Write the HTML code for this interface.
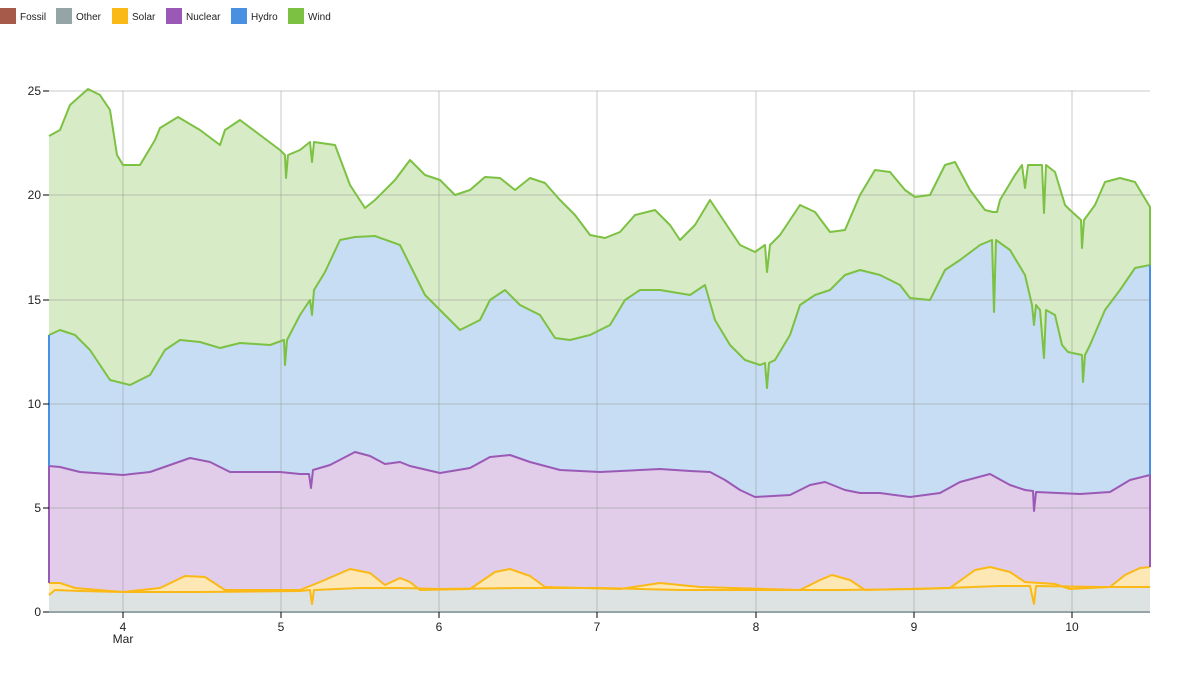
<!DOCTYPE html>
<html><head><meta charset="utf-8"><style>
html,body{margin:0;padding:0;background:#fff;width:1200px;height:675px;overflow:hidden}
svg{display:block;font-family:"Liberation Sans",sans-serif}
</style></head><body>
<svg width="1200" height="675" viewBox="0 0 1200 675">
<!-- legend -->
<g font-size="10" fill="#222">
<rect x="0" y="8" width="16" height="16" fill="#a55a4a"/><text x="20" y="20">Fossil</text>
<rect x="56" y="8" width="16" height="16" fill="#95a5a6"/><text x="76" y="20">Other</text>
<rect x="112" y="8" width="16" height="16" fill="#fbb917"/><text x="132" y="20">Solar</text>
<rect x="166" y="8" width="16" height="16" fill="#9b59b6"/><text x="186" y="20">Nuclear</text>
<rect x="231" y="8" width="16" height="16" fill="#4a90e2"/><text x="251" y="20">Hydro</text>
<rect x="288" y="8" width="16" height="16" fill="#7cc142"/><text x="308" y="20">Wind</text>
</g>
<!-- wind area -->
<polygon fill="#d7ebc7" points="49,136 60,130 70,105 88,89 100,95 110,110 117,155 123,165 140,165 155,140 160,128 178,117 200,130 220,145 225,130 240,120 260,135 280,150 285,155 286,178 288,155 300,150 310,142 312,162 314,142 335,145 350,185 365,208 375,200 395,180 410,160 425,175 440,180 455,195 470,190 485,177 500,178 515,190 530,178 545,183 560,200 575,215 590,235 605,238 620,232 635,215 655,210 670,225 680,240 695,225 710,200 720,215 740,245 755,252 765,245 767,272 770,245 780,235 800,205 815,212 830,232 845,230 860,195 875,170 890,172 905,190 915,197 930,195 945,165 955,162 970,190 985,210 993,212 995,212 997,212 1000,200 1015,175 1022,165 1025,188 1028,165 1030,165 1042,165 1044,213 1046,165 1055,172 1065,205 1070,210 1081,220 1082,248 1084,220 1095,205 1105,182 1120,178 1135,182 1150,207 1150,612 49,612"/>
<!-- hydro area -->
<polygon fill="#c6ddf4" points="49,335 60,330 75,335 90,350 110,380 130,385 150,375 165,350 180,340 200,342 220,348 240,343 270,345 284,340 285,365 287,340 300,315 310,300 312,315 314,290 325,272 340,240 355,237 375,236 400,245 410,265 425,295 440,310 460,330 480,320 490,300 505,290 520,305 540,315 555,338 570,340 590,335 610,325 625,300 640,290 660,290 690,295 705,285 715,320 730,345 745,360 760,365 765,363 767,388 769,363 775,360 790,335 800,305 815,295 830,290 845,275 860,270 880,275 900,285 910,298 930,300 945,270 960,260 980,245 992,240 994,312 996,240 1010,250 1025,275 1032,305 1034,325 1036,305 1040,310 1044,358 1046,310 1055,315 1062,345 1068,352 1082,355 1083,382 1085,355 1090,345 1105,310 1120,290 1135,268 1150,265 1150,612 49,612"/>
<!-- nuclear area -->
<polygon fill="#e1cde9" points="49,466 60,467 80,472 123,475 150,472 170,465 190,458 210,462 230,472 280,472 300,474 309,474 311,488 313,470 330,465 355,452 370,456 385,464 400,462 410,466 440,473 470,468 490,457 510,455 530,462 560,470 600,472 640,470 660,469 690,471 710,472 725,480 740,490 755,497 790,495 810,485 825,482 845,490 860,493 880,493 910,497 940,493 960,482 990,474 1010,485 1025,490 1033,491 1034,511 1036,492 1080,494 1110,492 1130,480 1150,475 1150,612 49,612"/>
<!-- solar area -->
<polygon fill="#fde7b5" points="49,583 60,583 75,588 123,592 160,588 185,576 205,577 225,590 300,590 320,582 350,569 370,573 385,585 400,578 410,582 420,590 470,589 495,572 510,569 530,576 545,587 620,589 660,583 700,587 800,590 820,580 832,575 850,580 865,590 950,588 975,570 990,567 1010,572 1025,582 1055,584 1070,589 1110,587 1125,575 1140,568 1150,567 1150,612 49,612"/>
<!-- other area -->
<polygon fill="#dde3e3" points="49,595 55,590 80,591 123,592 200,592 300,591 310,590 312,604 314,590 360,588 400,588 440,589 520,588 600,588 680,590 760,590 840,590 920,589 1000,586 1030,586 1034,604 1036,586 1100,587 1150,587 1150,612 49,612"/>
<!-- grid -->
<g stroke="#999" stroke-opacity="0.35" stroke-width="1.5">
<line x1="49" y1="91" x2="1150" y2="91"/><line x1="49" y1="195" x2="1150" y2="195"/><line x1="49" y1="300" x2="1150" y2="300"/><line x1="49" y1="404" x2="1150" y2="404"/><line x1="49" y1="508" x2="1150" y2="508"/>
<line x1="123" y1="91" x2="123" y2="612"/><line x1="281" y1="91" x2="281" y2="612"/><line x1="439" y1="91" x2="439" y2="612"/><line x1="597" y1="91" x2="597" y2="612"/><line x1="756" y1="91" x2="756" y2="612"/><line x1="914" y1="91" x2="914" y2="612"/><line x1="1072" y1="91" x2="1072" y2="612"/>
</g>
<!-- lines -->
<g fill="none" stroke-width="2" stroke-linejoin="round">
<polyline stroke="#fbb917" points="49,583 60,583 75,588 123,592 160,588 185,576 205,577 225,590 300,590 320,582 350,569 370,573 385,585 400,578 410,582 420,590 470,589 495,572 510,569 530,576 545,587 620,589 660,583 700,587 800,590 820,580 832,575 850,580 865,590 950,588 975,570 990,567 1010,572 1025,582 1055,584 1070,589 1110,587 1125,575 1140,568 1150,567"/>
<polyline stroke="#fbb917" points="49,595 55,590 80,591 123,592 200,592 300,591 310,590 312,604 314,590 360,588 400,588 440,589 520,588 600,588 680,590 760,590 840,590 920,589 1000,586 1030,586 1034,604 1036,586 1100,587 1150,587"/>
<polyline stroke="#9b59b6" points="49,466 60,467 80,472 123,475 150,472 170,465 190,458 210,462 230,472 280,472 300,474 309,474 311,488 313,470 330,465 355,452 370,456 385,464 400,462 410,466 440,473 470,468 490,457 510,455 530,462 560,470 600,472 640,470 660,469 690,471 710,472 725,480 740,490 755,497 790,495 810,485 825,482 845,490 860,493 880,493 910,497 940,493 960,482 990,474 1010,485 1025,490 1033,491 1034,511 1036,492 1080,494 1110,492 1130,480 1150,475"/>
<polyline stroke="#7cc142" points="49,335 60,330 75,335 90,350 110,380 130,385 150,375 165,350 180,340 200,342 220,348 240,343 270,345 284,340 285,365 287,340 300,315 310,300 312,315 314,290 325,272 340,240 355,237 375,236 400,245 410,265 425,295 440,310 460,330 480,320 490,300 505,290 520,305 540,315 555,338 570,340 590,335 610,325 625,300 640,290 660,290 690,295 705,285 715,320 730,345 745,360 760,365 765,363 767,388 769,363 775,360 790,335 800,305 815,295 830,290 845,275 860,270 880,275 900,285 910,298 930,300 945,270 960,260 980,245 992,240 994,312 996,240 1010,250 1025,275 1032,305 1034,325 1036,305 1040,310 1044,358 1046,310 1055,315 1062,345 1068,352 1082,355 1083,382 1085,355 1090,345 1105,310 1120,290 1135,268 1150,265"/>
<polyline stroke="#7cc142" points="49,136 60,130 70,105 88,89 100,95 110,110 117,155 123,165 140,165 155,140 160,128 178,117 200,130 220,145 225,130 240,120 260,135 280,150 285,155 286,178 288,155 300,150 310,142 312,162 314,142 335,145 350,185 365,208 375,200 395,180 410,160 425,175 440,180 455,195 470,190 485,177 500,178 515,190 530,178 545,183 560,200 575,215 590,235 605,238 620,232 635,215 655,210 670,225 680,240 695,225 710,200 720,215 740,245 755,252 765,245 767,272 770,245 780,235 800,205 815,212 830,232 845,230 860,195 875,170 890,172 905,190 915,197 930,195 945,165 955,162 970,190 985,210 993,212 997,212 1000,200 1015,175 1022,165 1025,188 1028,165 1042,165 1044,213 1046,165 1055,172 1065,205 1070,210 1081,220 1082,248 1084,220 1095,205 1105,182 1120,178 1135,182 1150,207 1150,265"/>
<line x1="1150" y1="265" x2="1150" y2="475" stroke="#4a90e2"/>
<line x1="1150" y1="475" x2="1150" y2="567" stroke="#9b59b6"/>
<line x1="49" y1="335" x2="49" y2="466" stroke="#4a90e2"/>
<line x1="49" y1="466" x2="49" y2="583" stroke="#9b59b6"/>
</g>
<!-- axes -->
<line x1="49" y1="612" x2="1150" y2="612" stroke="#95a5a6" stroke-width="2"/>
<g stroke="#000" stroke-width="1">
<line x1="43" y1="91" x2="49" y2="91"/><line x1="43" y1="195" x2="49" y2="195"/><line x1="43" y1="300" x2="49" y2="300"/><line x1="43" y1="404" x2="49" y2="404"/><line x1="43" y1="508" x2="49" y2="508"/><line x1="43" y1="612" x2="49" y2="612"/>
<line x1="123" y1="612" x2="123" y2="618"/><line x1="281" y1="612" x2="281" y2="618"/><line x1="439" y1="612" x2="439" y2="618"/><line x1="597" y1="612" x2="597" y2="618"/><line x1="756" y1="612" x2="756" y2="618"/><line x1="914" y1="612" x2="914" y2="618"/><line x1="1072" y1="612" x2="1072" y2="618"/>
</g>
<g font-size="12" fill="#222" text-anchor="end">
<text x="41" y="95">25</text><text x="41" y="199">20</text><text x="41" y="304">15</text><text x="41" y="408">10</text><text x="41" y="512">5</text><text x="41" y="616">0</text>
</g>
<g font-size="12" fill="#222" text-anchor="middle">
<text x="123" y="631">4</text><text x="123" y="643">Mar</text><text x="281" y="631">5</text><text x="439" y="631">6</text><text x="597" y="631">7</text><text x="756" y="631">8</text><text x="914" y="631">9</text><text x="1072" y="631">10</text>
</g>
</svg>
</body></html>
